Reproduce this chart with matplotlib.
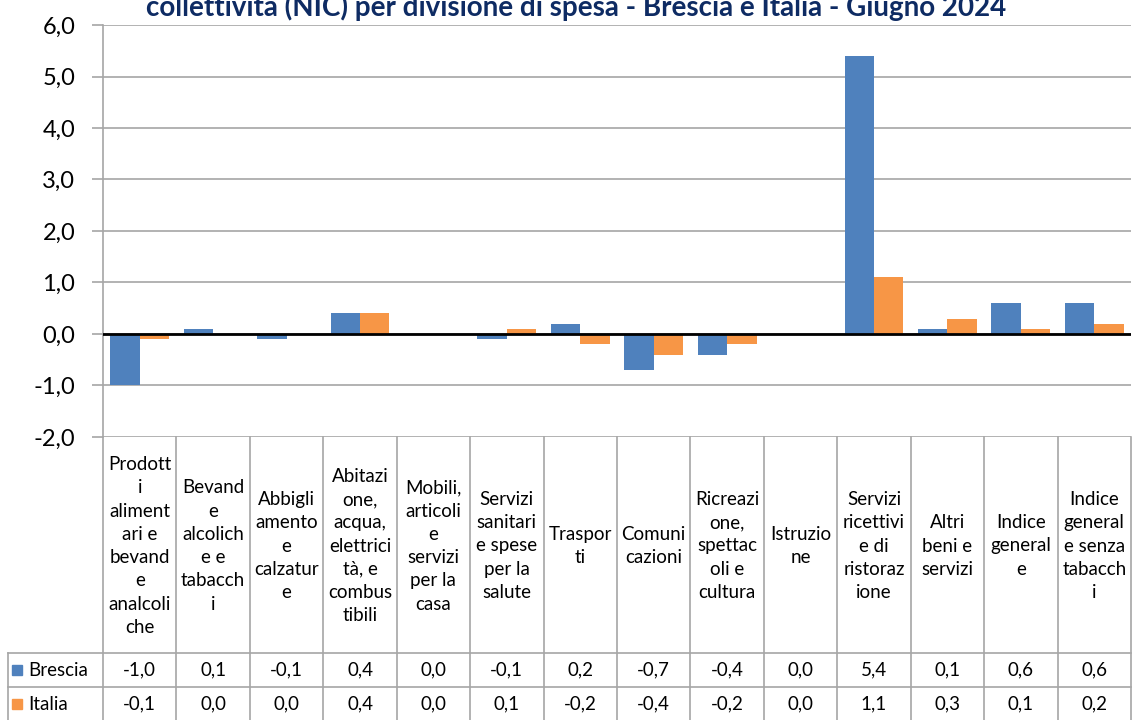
import matplotlib.pyplot as plt
from matplotlib.ticker import FuncFormatter, MultipleLocator
import numpy as np

plt.rcParams["font.family"] = ["Lato", "DejaVu Sans"]

W, H = 1132, 720

TITLE = "collettività (NIC) per divisione di spesa - Brescia e Italia - Giugno 2024"
categories = [
    "Prodott\ni\naliment\nari e\nbevand\ne\nanalcoli\nche",
    "Bevand\ne\nalcolich\ne e\ntabacch\ni",
    "Abbigli\namento\ne\ncalzatur\ne",
    "Abitazi\none,\nacqua,\nelettrici\ntà, e\ncombus\ntibili",
    "Mobili,\narticoli\ne\nservizi\nper la\ncasa",
    "Servizi\nsanitari\ne spese\nper la\nsalute",
    "Traspor\nti",
    "Comuni\ncazioni",
    "Ricreazi\none,\nspettac\noli e\ncultura",
    "Istruzio\nne",
    "Servizi\nricettivi\ne di\nristoraz\nione",
    "Altri\nbeni e\nservizi",
    "Indice\ngeneral\ne",
    "Indice\ngeneral\ne senza\ntabacch\ni",
]
brescia = [-1.0, 0.1, -0.1, 0.4, 0.0, -0.1, 0.2, -0.7, -0.4, 0.0, 5.4, 0.1, 0.6, 0.6]
italia = [-0.1, 0.0, 0.0, 0.4, 0.0, 0.1, -0.2, -0.4, -0.2, 0.0, 1.1, 0.3, 0.1, 0.2]
series_names = ["Brescia", "Italia"]

BLUE = "#4F81BD"
ORANGE = "#F79646"
GRID = "#A6A6A6"
NAVY = "#0E2B63"


def fmt(v):
    return f"{v:.1f}".replace(".", ",")


fig = plt.figure(figsize=(W / 100, H / 100), dpi=100)

# plot area in pixel coordinates
x0, x1 = 103, 1131
y_top, y_bot = 25, 437
ax = fig.add_axes([x0 / W, 1 - y_bot / H, (x1 - x0) / W, (y_bot - y_top) / H])

x = np.arange(len(categories))
bw = 0.4
ax.bar(x - bw / 2, brescia, bw, color=BLUE, zorder=3)
ax.bar(x + bw / 2, italia, bw, color=ORANGE, zorder=3)

ax.set_xlim(-0.5, len(categories) - 0.5)
ax.set_ylim(-2, 6)
ax.yaxis.set_major_locator(MultipleLocator(1))
ax.yaxis.set_major_formatter(FuncFormatter(lambda v, _: fmt(v)))
ax.grid(axis="y", color=GRID, linewidth=1.2, zorder=0)
ax.axhline(0, color="black", linewidth=2, zorder=4)
ax.set_xticks([])
for side in ("top", "right", "bottom"):
    ax.spines[side].set_visible(False)
ax.spines["left"].set_color(GRID)
ax.spines["left"].set_linewidth(1.2)
ax.tick_params(axis="y", length=8, width=1.2, color=GRID, labelsize=17, pad=12)

# the title's upper part falls outside the canvas, as in the original
fig.text(576 / W, 1 - 16 / H, TITLE, ha="center", va="baseline",
         fontsize=20, fontweight="bold", color=NAVY)

# data table below the plot
tab_h = H - y_bot
tab = fig.add_axes([x0 / W, 0, (x1 - x0) / W, tab_h / H])
tab.set_xlim(-0.5, len(categories) - 0.5)
tab.set_ylim(tab_h, 0)
tab.axis("off")

col_w = (x1 - x0) / len(categories)
leg_left = -0.5 - (x0 - 8) / col_w
hdr_bot = 653 - y_bot
row2_top = 687 - y_bot
line_kw = dict(color=GRID, linewidth=1.2, clip_on=False)

for i in range(len(categories) + 1):
    tab.plot([i - 0.5, i - 0.5], [0, tab_h], **line_kw)
tab.plot([leg_left, len(categories) - 0.5], [hdr_bot, hdr_bot], **line_kw)
tab.plot([leg_left, len(categories) - 0.5], [row2_top, row2_top], **line_kw)
tab.plot([leg_left, leg_left], [hdr_bot, tab_h], **line_kw)

for i, label in enumerate(categories):
    tab.text(i, hdr_bot / 2 + 1, label, ha="center", va="center",
             fontsize=13.5, linespacing=1.45, clip_on=False)

rows = [(brescia, BLUE, (hdr_bot + row2_top) / 2), (italia, ORANGE, (row2_top + tab_h + 1) / 2)]
for name, (vals, color, yc) in zip(series_names, rows):
    for i, v in enumerate(vals):
        tab.text(i, yc, fmt(v), ha="center", va="center", fontsize=13.5)
    tab.add_patch(plt.Rectangle((leg_left + 4 / col_w, yc - 5), 10 / col_w, 10,
                                color=color, clip_on=False))
    tab.text(leg_left + 20 / col_w, yc, name, ha="left", va="center", fontsize=13.5)

fig.savefig("out.png", dpi=100)
